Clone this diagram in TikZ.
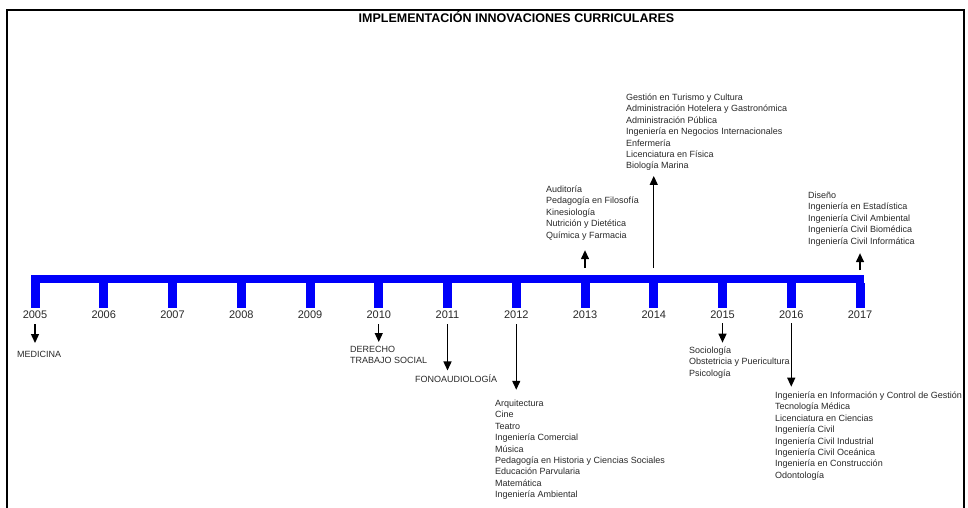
\documentclass[tikz,border=0pt]{standalone}
\usepackage{fontspec}
\setmainfont{Liberation Sans}
\usepackage{tikz}
\usetikzlibrary{arrows.meta,positioning,calc}
\definecolor{balken}{RGB}{0,0,250}
\definecolor{schrift}{RGB}{40,40,40}
\tikzset{
  jahr/.style={font=\fontsize{11}{13}\selectfont, inner sep=0pt, text=schrift},
  liste/.style={font=\fontsize{9}{11.4}\selectfont, align=left, inner sep=0pt, anchor=base west, text=schrift},
  pfeil/.style={-{Triangle[length=9pt,width=8pt]}, line width=1.3pt},
}

\begin{document}
\begin{tikzpicture}[x=1pt,y=-1pt]
%Koordinaten in Pixeln, y nach unten
%Listen: Anker = Grundlinie der letzten Zeile
\useasboundingbox (0,0) rectangle (968,508);
\draw[line width=2pt] (7,508) -- (7,10) -- (964,10) -- (964,508);
\node[font=\bfseries\fontsize{12.5}{14}\selectfont] (titel) at (516.5,17) {IMPLEMENTACIÓN INNOVACIONES CURRICULARES};

%Zeitachse
  \pgfmathsetmacro{\dx}{68.75}
\fill[balken] (31,275) rectangle (864,283);
\foreach \i in {0,...,12}{
  \pgfmathtruncatemacro{\jahr}{2005+\i}
  \fill[balken] (35+\i*\dx-4.5,283) rectangle ++(9,25);
  \coordinate (t\jahr) at (35+\i*\dx,275);
  \node[jahr] (j\jahr) at (35+\i*\dx,315) {\jahr};
}

%Studiengaenge
\node[liste] (l2005) at (17,357.5) {MEDICINA};
\node[liste] (l2010) at (350,363.9) {DERECHO\\TRABAJO SOCIAL};
\node[liste] (l2011) at (415,382.5) {FONOAUDIOLOGÍA};
\node[liste] (l2012) at (495,497.7) {Arquitectura\\Cine\\Teatro\\Ingeniería Comercial\\Música\\Pedagogía en Historia y Ciencias Sociales\\Educación Parvularia\\Matemática\\Ingeniería Ambiental};
\node[liste] (l2013) at (546,238.1) {Auditoría\\Pedagogía en Filosofía\\Kinesiología\\Nutrición y Dietética\\Química y Farmacia};
\node[liste] (l2014) at (626,168.9) {Gestión en Turismo y Cultura\\Administración Hotelera y Gastronómica\\Administración Pública\\Ingeniería en Negocios Internacionales\\Enfermería\\Licenciatura en Física\\Biología Marina};
\node[liste] (l2015) at (689,376.3) {Sociología\\Obstetricia y Puericultura\\Psicología};
\node[liste] (l2016) at (775,478.3) {Ingeniería en Información y Control de Gestión\\Tecnología Médica\\Licenciatura en Ciencias\\Ingeniería Civil\\Ingeniería Civil Industrial\\Ingeniería Civil Oceánica\\Ingeniería en Construcción\\Odontología};
\node[liste] (l2017) at (808,244.1) {Diseño\\Ingeniería en Estadística\\Ingeniería Civil Ambiental\\Ingeniería Civil Biomédica\\Ingeniería Civil Informática};

%Pfeile nach unten
\draw[pfeil,shorten <=5pt,shorten >=8pt] (j2005.south) -- (j2005.south |- l2005.north);
\draw[pfeil,shorten <=5pt,shorten >=4pt] (j2010.south) -- (j2010.south |- l2010.north);
\draw[pfeil,shorten <=5pt,shorten >=4pt] (j2011.south) -- (j2011.south |- l2011.north);
\draw[pfeil,shorten <=5pt,shorten >=10pt] (j2012.south) -- (j2012.south |- l2012.north);
\draw[pfeil,shorten <=4pt,shorten >=4pt] (j2015.south) -- (j2015.south |- l2015.north);
\draw[pfeil,shorten <=4pt,shorten >=5pt] (j2016.south) -- (j2016.south |- l2016.north);
%Pfeile nach oben
\draw[pfeil,shorten <=7pt,shorten >=10pt] (t2013) -- (t2013 |- l2013.south);
\draw[pfeil,shorten <=7pt,shorten >=5pt] (t2014) -- (t2014 |- l2014.south);
\draw[pfeil,shorten <=5pt,shorten >=7pt] (t2017) -- (t2017 |- l2017.south);
\end{tikzpicture}
\end{document}
